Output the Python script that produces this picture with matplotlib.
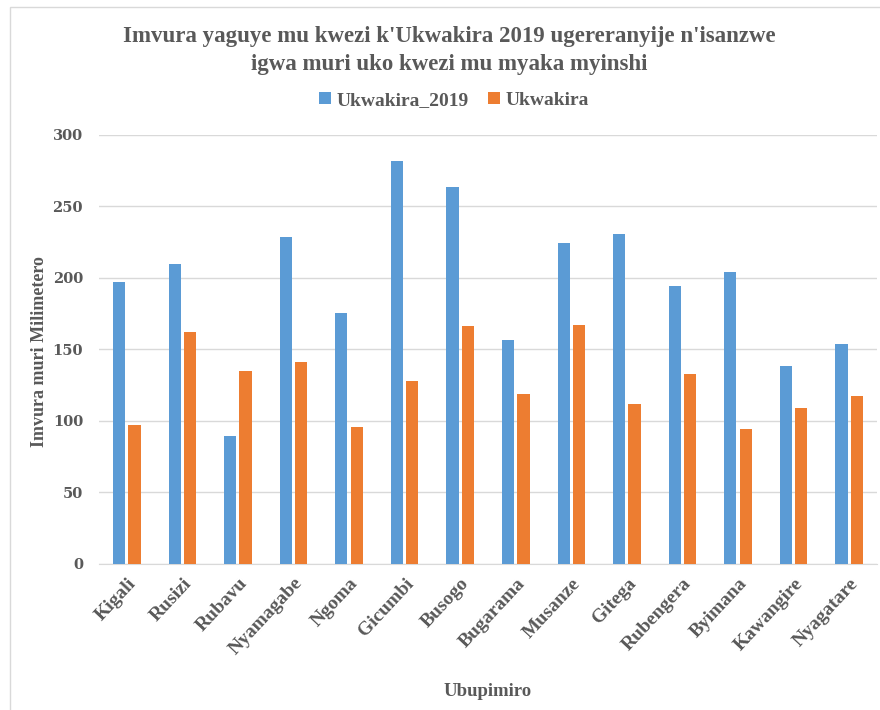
import matplotlib.pyplot as plt
from matplotlib.patches import Rectangle
import numpy as np

# ibipimo by'imvura (mm)
ubupimiro = ['Kigali', 'Rusizi', 'Rubavu', 'Nyamagabe', 'Ngoma', 'Gicumbi', 'Busogo',
             'Bugarama', 'Musanze', 'Gitega', 'Rubengera', 'Byimana', 'Kawangire', 'Nyagatare']
ukwakira_2019 = [197.3, 209.4, 89.2, 228.7, 175.4, 282.0, 263.7,
                 156.7, 224.3, 231.0, 194.5, 204.0, 138.0, 154.0]
ukwakira = [96.9, 161.9, 134.9, 141.2, 95.9, 127.6, 166.0,
            119.0, 167.0, 111.8, 133.0, 94.3, 109.2, 117.1]
yticks = [0, 50, 100, 150, 200, 250, 300]

gray = '#595959'
serif = 'Liberation Serif'

fig = plt.figure(figsize=(8.8, 7.1), dpi=100)
# urukiramende ruzengurutse igishushanyo
fig.patches.append(Rectangle((0.011, -0.02), 1.02, 1.01, transform=fig.transFigure,
                             fill=False, edgecolor='#D9D9D9', linewidth=1))
ax = fig.add_axes([0.1125, 0.206, 0.884, 0.604])

x = np.arange(len(ubupimiro))
w = 0.22
ax.bar(x - 0.138, ukwakira_2019, w, color='#5B9BD5', label='Ukwakira_2019', zorder=3)
ax.bar(x + 0.138, ukwakira, w, color='#ED7D31', label='Ukwakira', zorder=3)

ax.set_xlim(-0.5, len(ubupimiro) - 0.5)
ax.set_ylim(0, 300)
ax.set_yticks(yticks)
ax.yaxis.grid(True, color='#D9D9D9', linewidth=1, zorder=0)
for s in ['top', 'right', 'left']:
    ax.spines[s].set_visible(False)
ax.spines['bottom'].set_color('#D9D9D9')
ax.tick_params(axis='both', length=0, colors=gray)
ax.tick_params(axis='y', pad=11.5)
ax.tick_params(axis='x', pad=8)

ax.set_xticks(x)
ax.set_xticklabels(ubupimiro, rotation=47, ha='right', rotation_mode='anchor',
                   fontsize=14, fontweight='bold', family=serif, color=gray)
for t in ax.get_yticklabels():
    t.set_fontsize(10.5)
    t.set_fontweight('bold')
    t.set_family('DejaVu Serif')

ax.set_ylabel('Imvura muri Milimetero', fontsize=13, fontweight='bold', family=serif,
              color=gray)
ax.yaxis.set_label_coords(-0.066, 0.494)
ax.set_xlabel('Ubupimiro', fontsize=13.5, fontweight='bold', family=serif, color=gray)
ax.xaxis.set_label_coords(0.5, -0.278)

fig.text(0.511, 0.929, "Imvura yaguye mu kwezi k'Ukwakira 2019 ugereranyije n'isanzwe\nigwa muri uko kwezi mu myaka myinshi",
         ha='center', va='center', fontsize=16.5, fontweight='bold', family=serif,
         color=gray, linespacing=1.45)

leg = fig.legend(loc='center', bbox_to_anchor=(0.516, 0.859), ncol=2, frameon=False,
                 handlelength=0.6, handleheight=0.6, handletextpad=0.3, columnspacing=1.0,
                 prop={'family': serif, 'weight': 'bold', 'size': 14})
for t in leg.get_texts():
    t.set_color(gray)

plt.savefig('out.png')
